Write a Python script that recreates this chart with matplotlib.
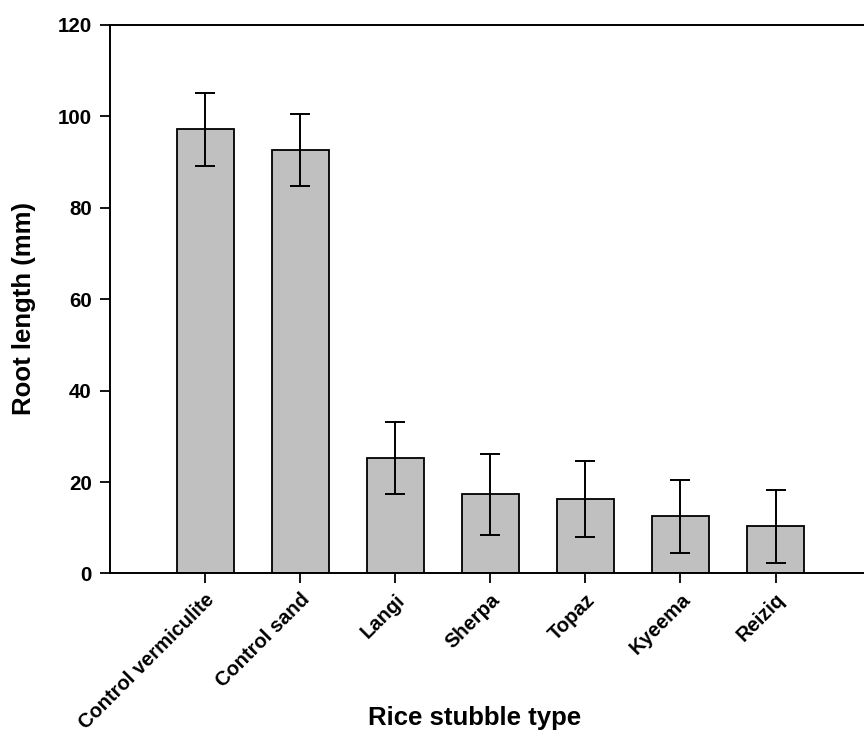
import numpy as np
import matplotlib
matplotlib.use("Agg")
import matplotlib.pyplot as plt

plt.rcParams['font.family'] = ['Liberation Sans', 'DejaVu Sans']
plt.rcParams['font.weight'] = 'bold'

stubble = ["Control vermiculite", "Control sand", "Langi", "Sherpa", "Topaz", "Kyeema", "Reiziq"]
root_length = [97.1, 92.6, 25.2, 17.3, 16.3, 12.5, 10.3]
root_err = [7.9, 7.9, 7.9, 8.8, 8.4, 8.0, 7.9]

fig = plt.figure(figsize=(8.64, 7.33), dpi=100)
ax = fig.add_axes([0.1273, 0.2176, 0.8727, 0.7487])

x = np.arange(len(stubble))
ax.bar(x, root_length, 0.6, color='#c0c0c0', edgecolor='black', linewidth=1.3,
       yerr=root_err, capsize=7.5, error_kw=dict(elinewidth=1.4, capthick=1.4, ecolor='black'),
       zorder=2)

ax.set_xlim(-1, 6.93)
ax.set_ylim(0, 120)
ax.set_yticks(np.arange(0, 121, 20))
ax.set_xticks(x)
ax.set_xticklabels(stubble, rotation=45, ha='right', rotation_mode='anchor')

ax.spines['right'].set_visible(False)
for s in ['left', 'bottom', 'top']:
    ax.spines[s].set_linewidth(1.4)
ax.tick_params(direction='out', length=7, width=1.3, labelsize=14.8)
ax.tick_params(axis='x', pad=5, labelsize=14.5)
ax.tick_params(axis='y', pad=6)

ax.set_ylabel('Root length (mm)', fontsize=18.5, fontweight='bold')
ax.set_xlabel('Rice stubble type', fontsize=18.5, fontweight='bold')
ax.yaxis.set_label_coords(-0.098, 0.482)
ax.xaxis.set_label_coords(0.484, -0.242)

fig.savefig("out.png", dpi=100)
